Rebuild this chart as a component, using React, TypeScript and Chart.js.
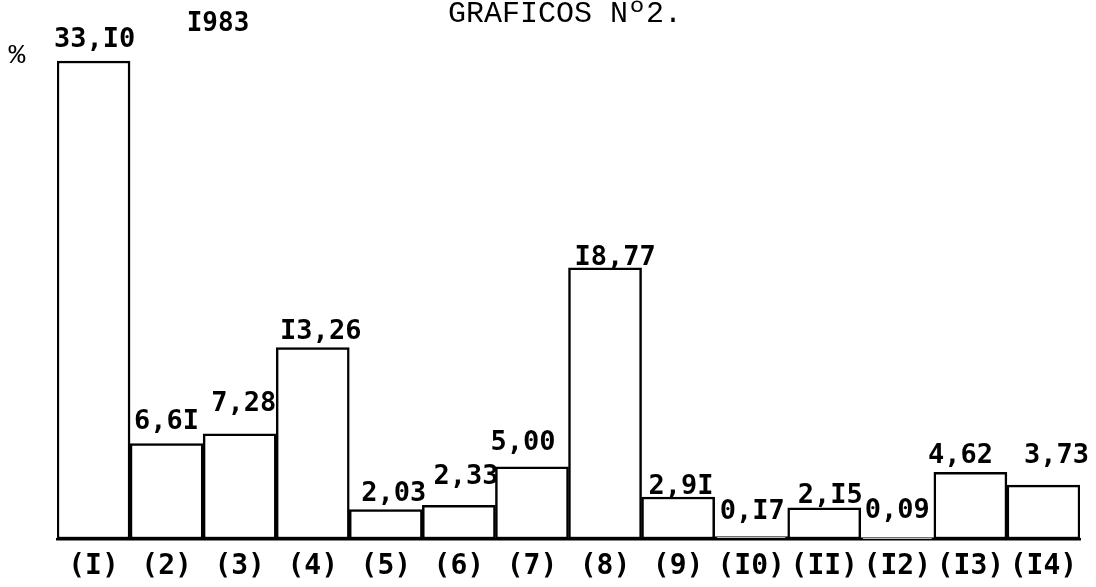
import React, { useEffect, useRef } from "react";
import { Chart, registerables } from "chart.js";

Chart.register(...registerables);

const categories = ["(I)", "(2)", "(3)", "(4)", "(5)", "(6)", "(7)", "(8)", "(9)", "(I0)", "(II)", "(I2)", "(I3)", "(I4)"];
const values = [33.10, 6.61, 7.28, 13.26, 2.03, 2.33, 5.00, 18.77, 2.91, 0.17, 2.15, 0.09, 4.62, 3.73];
const valueLabels = ["33,I0", "6,6I", "7,28", "I3,26", "2,03", "2,33", "5,00", "I8,77", "2,9I", "0,I7", "2,I5", "0,09", "4,62", "3,73"];
const title = "GRAFICOS Nº2.";
const yearLabel = "I983";
const unitLabel = "%";

// label placement offsets (pixels, relative to top-center of each bar)
const labelDx = [1, 0, 4, 8, 8, 7, -9, 10, 3, 1, 6, 0, -10, 13];
const labelDy = [-21, -22, -30, -16, -16, -28, -24, -10, -10, -25, -12, -27, -16, -29];

const MONO = "'Liberation Mono', 'DejaVu Sans Mono', monospace";
const BOLDMONO = "'DejaVu Sans Mono', 'Liberation Mono', monospace";

const annotatePlugin = {
  id: "annotate",
  afterDatasetsDraw(chart: any) {
    const ctx = chart.ctx;
    const meta = chart.getDatasetMeta(0);
    ctx.save();
    ctx.fillStyle = "#000";
    ctx.textAlign = "center";
    ctx.textBaseline = "middle";
    ctx.font = `bold 27px ${BOLDMONO}`;
    meta.data.forEach((bar: any, i: number) => {
      ctx.fillText(valueLabels[i], bar.x + labelDx[i], bar.y + labelDy[i]);
    });
    ctx.font = `30px ${MONO}`;
    ctx.fillText(title, 565, 14);
    ctx.font = `bold 26px ${BOLDMONO}`;
    ctx.fillText(yearLabel, 218, 24);
    ctx.font = `28px ${MONO}`;
    ctx.fillText(unitLabel, 17, 56);
    ctx.restore();
  },
};

export default function App() {
  const canvasRef = useRef<HTMLCanvasElement | null>(null);

  useEffect(() => {
    const canvas = canvasRef.current;
    if (!canvas) return;
    const chart = new Chart(canvas, {
      type: "bar",
      data: {
        labels: categories,
        datasets: [
          {
            data: values,
            backgroundColor: "#ffffff",
            borderColor: "#000000",
            borderWidth: 2.5,
            borderSkipped: false,
            categoryPercentage: 1,
            barPercentage: 1,
          },
        ],
      },
      options: {
        animation: false,
        responsive: false,
        maintainAspectRatio: false,
        layout: { padding: { left: 57, right: 16, top: 48, bottom: -8 } },
        plugins: {
          legend: { display: false },
          tooltip: { enabled: false },
          title: { display: false },
        },
        scales: {
          x: {
            display: true,
            grid: { display: false, drawTicks: false, tickLength: 0 },
            border: { display: true, color: "#000", width: 2.5 },
            ticks: {
              color: "#000",
              padding: 14,
              autoSkip: false,
              maxRotation: 0,
              font: { family: BOLDMONO, size: 28, weight: "bold", lineHeight: 1.0 },
            },
          },
          y: {
            display: false,
            min: 0,
            max: 34,
          },
        },
      },
      plugins: [annotatePlugin],
    });
    return () => chart.destroy();
  }, []);

  return (
    <div style={{ position: "fixed", left: 0, top: 0, width: 1096, height: 587, background: "#fff" }}>
      <canvas ref={canvasRef} width={1096} height={587} style={{ width: 1096, height: 587, display: "block" }} />
    </div>
  );
}
